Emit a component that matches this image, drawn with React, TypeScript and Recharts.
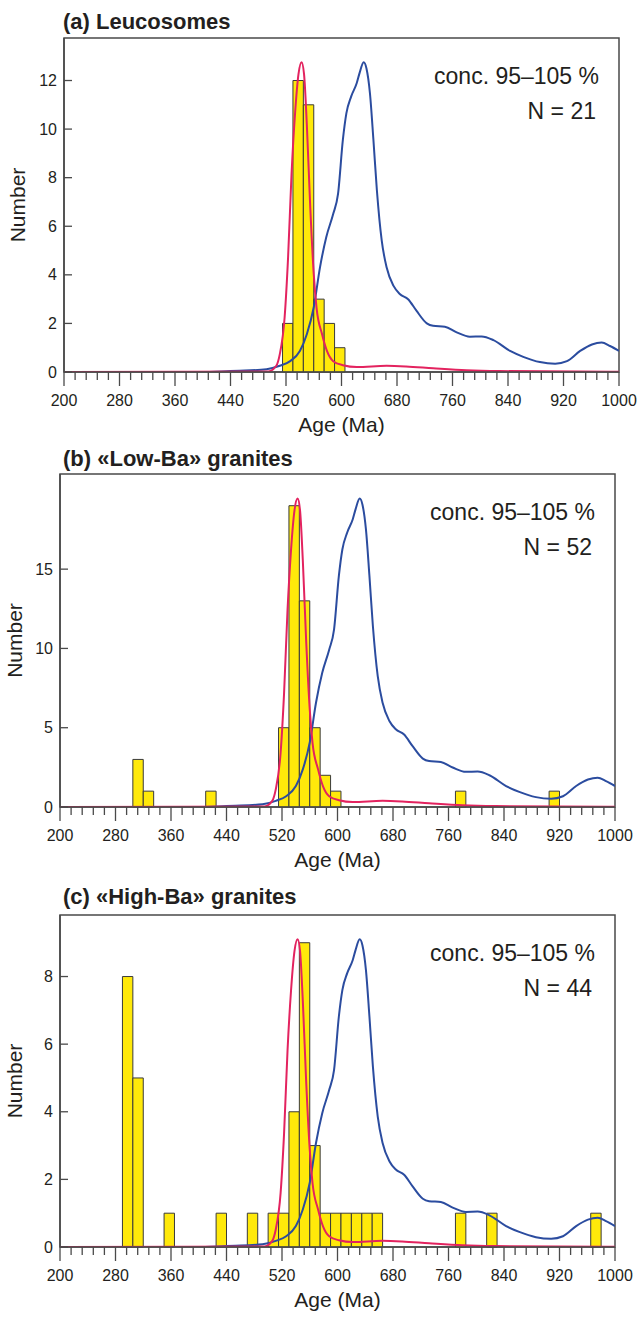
import { ComposedChart, Line, XAxis, YAxis, ReferenceArea } from 'recharts'

// histogram bins are 15 Ma wide; start age of each bin + count
const BIN_WIDTH = 15

const leucoBinStarts = [515, 530, 545, 560, 575, 590]
const leucoCounts = [2, 12, 11, 3, 2, 1]

const lowBaBinStarts = [305, 320, 410, 515, 530, 545, 560, 575, 590, 770, 905]
const lowBaCounts = [3, 1, 1, 5, 19, 13, 5, 2, 1, 1, 1]

const highBaBinStarts = [290, 305, 350, 425, 470, 500, 515, 530, 545, 560, 575, 590, 605, 620, 635, 650, 770, 815, 965]
const highBaCounts = [8, 5, 1, 1, 1, 1, 1, 4, 9, 3, 1, 1, 1, 1, 1, 1, 1, 1, 1]

// probability density curves, read as fraction of the peak height
const redAges = [200, 495, 506, 511, 518, 523, 528, 533, 538, 542.5, 546, 550, 555, 560, 564, 572, 579, 588, 602, 622, 665, 693, 732, 780, 828, 1000]
const redShape = [0, 0.002, 0.02, 0.057, 0.176, 0.37, 0.64, 0.833, 0.962, 1, 0.962, 0.8, 0.53, 0.316, 0.208, 0.122, 0.068, 0.035, 0.022, 0.016, 0.02, 0.018, 0.012, 0.0055, 0.003, 0.001]

const blueAges = [200, 396, 440, 453, 492, 511, 526, 540, 550, 560, 569, 578, 588, 595, 602, 607, 614, 622, 626, 632, 636, 641, 646, 651, 658, 665, 675, 684, 696, 708, 723, 732, 749, 766, 785, 802, 819, 843, 862, 886, 908, 925, 944, 961, 975, 987, 1000]
const blueShape = [0, 0, 0.003, 0.004, 0.009, 0.02, 0.035, 0.068, 0.122, 0.209, 0.338, 0.435, 0.51, 0.575, 0.75, 0.835, 0.89, 0.933, 0.965, 1, 0.98, 0.9, 0.75, 0.587, 0.424, 0.338, 0.278, 0.252, 0.235, 0.198, 0.157, 0.149, 0.146, 0.128, 0.114, 0.115, 0.103, 0.068, 0.049, 0.032, 0.027, 0.035, 0.068, 0.089, 0.095, 0.084, 0.068]

const ageLabels = [200, 280, 360, 440, 520, 600, 680, 760, 840, 920, 1000]
const ageTicks = Array.from({ length: 51 }, (_, i) => 200 + i * 16)

const AXIS = '#4a4a4a'
const INK = '#231f20'
const YELLOW = '#ffe90a'
const RED = '#e3235f'
const BLUE = '#2b4c9f'
const FONT = '"Liberation Sans", Arial, Helvetica, sans-serif'

const panels = [
  {
    title: '(a) Leucosomes', n: 21, starts: leucoBinStarts, counts: leucoCounts,
    peak: 12.75, yMax: 13.75, yTicks: [0, 2, 4, 6, 8, 10, 12],
    top: 0, boxTop: 38, boxBottom: 372, left: 64, right: 619, titleY: 29, numberX: 25,
  },
  {
    title: '(b) «Low-Ba» granites', n: 52, starts: lowBaBinStarts, counts: lowBaCounts,
    peak: 19.45, yMax: 21, yTicks: [0, 5, 10, 15],
    top: 438, boxTop: 474, boxBottom: 807, left: 60, right: 615, titleY: 466, numberX: 22,
  },
  {
    title: '(c) «High-Ba» granites', n: 44, starts: highBaBinStarts, counts: highBaCounts,
    peak: 9.1, yMax: 9.82, yTicks: [0, 2, 4, 6, 8],
    top: 876, boxTop: 915, boxBottom: 1247, left: 60, right: 615, titleY: 904, numberX: 22,
  },
]

const AgeTick = (props: any) => {
  const { x, y, payload } = props
  const major = ageLabels.includes(payload.value)
  return (
    <g>
      <line x1={x} y1={y} x2={x} y2={y + (major ? 14 : 8)} stroke={AXIS} strokeWidth={1.3} />
      {major && (
        <text x={x} y={y + 34} textAnchor="middle" fontSize={16} fill={INK} fontFamily={FONT}>
          {payload.value}
        </text>
      )}
    </g>
  )
}

const CountTick = (props: any) => {
  const { x, y, payload } = props
  return (
    <g>
      <line x1={x} y1={y} x2={x + 8} y2={y} stroke={AXIS} strokeWidth={1.3} />
      <text x={x - 7} y={y + 5.5} textAnchor="end" fontSize={16} fill={INK} fontFamily={FONT}>
        {payload.value}
      </text>
    </g>
  )
}

function Panel({ p }: { p: (typeof panels)[number] }) {
  const red = redAges.map((age, i) => ({ age, v: redShape[i] * p.peak }))
  const blue = blueAges.map((age, i) => ({ age, v: blueShape[i] * p.peak }))
  const height = 438
  return (
    <div style={{ position: 'absolute', left: 0, top: p.top, width: 641, height }}>
      <ComposedChart
        width={641}
        height={height}
        margin={{ top: p.boxTop - p.top, right: 641 - p.right, bottom: 0, left: 0 }}
      >
        <XAxis
          type="number"
          dataKey="age"
          domain={[200, 1000]}
          ticks={ageTicks}
          interval={0}
          allowDataOverflow
          tick={<AgeTick />}
          tickLine={false}
          tickSize={0}
          tickMargin={0}
          axisLine={{ stroke: AXIS, strokeWidth: 1.5 }}
          height={p.top + height - p.boxBottom}
        />
        <YAxis
          type="number"
          domain={[0, p.yMax]}
          ticks={p.yTicks}
          interval={0}
          allowDataOverflow
          tick={<CountTick />}
          tickLine={false}
          tickSize={0}
          tickMargin={0}
          axisLine={{ stroke: AXIS, strokeWidth: 1.5 }}
          width={p.left}
        />
        <ReferenceArea x1={200} x2={1000} y1={0} y2={p.yMax} fill="none" stroke={AXIS} strokeWidth={1.5} />
        {p.starts.map((s, i) => (
          <ReferenceArea
            key={s}
            x1={s}
            x2={s + BIN_WIDTH}
            y1={0}
            y2={p.counts[i]}
            fill={YELLOW}
            fillOpacity={1}
            stroke="#3a3a3a"
            strokeWidth={1}
          />
        ))}
        <Line data={blue} dataKey="v" type="monotone" stroke={BLUE} strokeWidth={2} dot={false} isAnimationActive={false} />
        <Line data={red} dataKey="v" type="monotone" stroke={RED} strokeWidth={2} dot={false} isAnimationActive={false} />
      </ComposedChart>
    </div>
  )
}

export default function App() {
  return (
    <div style={{ position: 'absolute', left: 0, top: 0, width: 641, height: 1317, background: '#fff' }}>
      {panels.map((p) => (
        <Panel key={p.title} p={p} />
      ))}
      <svg width={641} height={1317} style={{ position: 'absolute', left: 0, top: 0, pointerEvents: 'none' }}>
        {panels.map((p) => {
          const midY = (p.boxTop + p.boxBottom) / 2
          return (
            <g key={p.title} fontFamily={FONT} fill={INK}>
              <text x={63} y={p.titleY} fontSize={22} fontWeight="bold">{p.title}</text>
              <text x={p.numberX} y={midY} fontSize={21} textAnchor="middle" transform={`rotate(-90 ${p.numberX} ${midY})`}>
                Number
              </text>
              <text x={(p.left + p.right) / 2} y={p.boxBottom + 60} fontSize={21} textAnchor="middle">Age (Ma)</text>
              <text x={p.right - 20} y={p.boxTop + 46} fontSize={23} textAnchor="end">conc. 95–105 %</text>
              <text x={p.right - 23} y={p.boxTop + 81} fontSize={23} textAnchor="end">N = {p.n}</text>
            </g>
          )
        })}
      </svg>
    </div>
  )
}
